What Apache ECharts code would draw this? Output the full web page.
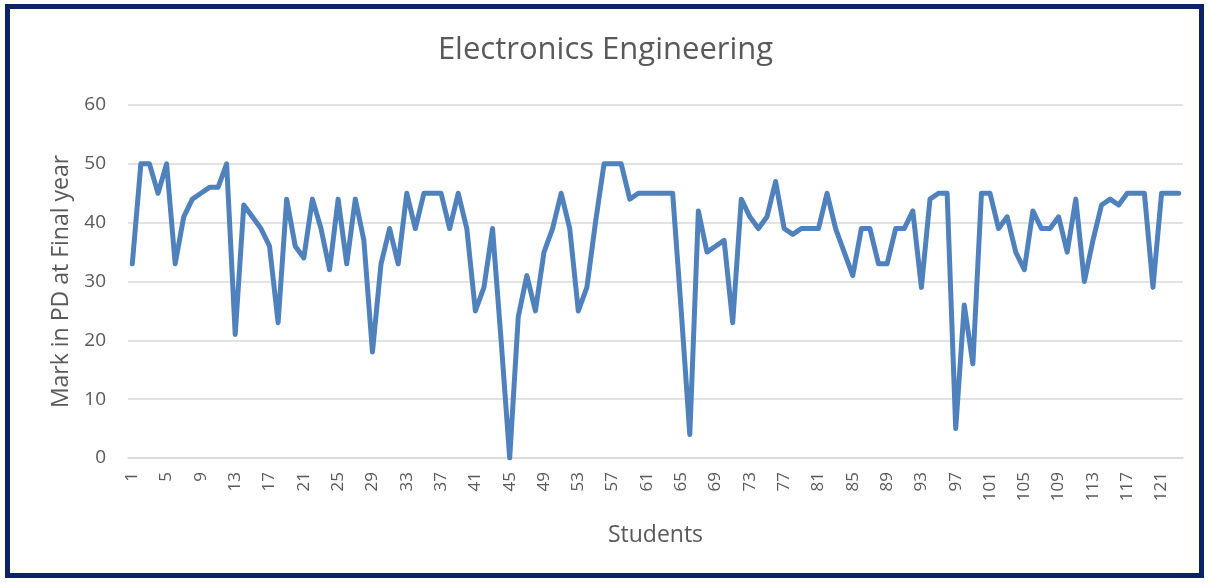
<!DOCTYPE html>
<html>
<head>
<meta charset="utf-8">
<script src="https://cdn.jsdelivr.net/npm/echarts@6/dist/echarts.min.js"></script>
<style>
  html, body { margin: 0; padding: 0; background: #fff; }
  #frame {
    position: absolute; left: 5px; top: 4px; width: 1189px; height: 564px;
    border: 5px solid #0b2265;
  }
  #chart { position: absolute; left: 0; top: 0; width: 1211px; height: 583px; }
</style>
</head>
<body>
<div id="chart"></div>
<div id="frame"></div>
<script>
// student numbers 1..123
const students = Array.from({ length: 123 }, (_, i) => String(i + 1));

// marks
const marks = [
  33, 50, 50, 45, 50, 33, 41, 44, 45, 46, 46, 50, 21, 43, 41, 39, 36, 23, 44, 36,
  34, 44, 39, 32, 44, 33, 44, 37, 18, 33, 39, 33, 45, 39, 45, 45, 45, 39, 45, 39,
  25, 29, 39, 20, 0, 24, 31, 25, 35, 39, 45, 39, 25, 29, 40, 50, 50, 50, 44, 45,
  45, 45, 45, 45, 25, 4, 42, 35, 36, 37, 23, 44, 41, 39, 41, 47, 39, 38, 39, 39,
  39, 45, 39, 35, 31, 39, 39, 33, 33, 39, 39, 42, 29, 44, 45, 45, 5, 26, 16, 45,
  45, 39, 41, 35, 32, 42, 39, 39, 41, 35, 44, 30, 37, 43, 44, 43, 45, 45, 45, 29,
  45, 45, 45
];

const chart = echarts.init(document.getElementById('chart'));

const grey = '#595959';
const font = 'Open Sans';

chart.setOption({
  animation: false,
  title: {
    text: 'Electronics Engineering',
    left: 'center',
    top: 30,
    textStyle: { fontFamily: font, fontSize: 31, fontWeight: 'normal', color: grey }
  },
  grid: { left: 128, right: 28, top: 105, bottom: 125 },
  xAxis: {
    type: 'category',
    data: students,
    boundaryGap: true,
    name: 'Students',
    nameLocation: 'middle',
    nameGap: 66,
    nameTextStyle: { fontFamily: font, fontSize: 23, color: grey },
    axisLine: { lineStyle: { color: '#d9d9d9', width: 1.5 } },
    axisTick: { show: false },
    axisLabel: {
      interval: 3,
      rotate: 90,
      margin: 14,
      fontFamily: font,
      fontSize: 17,
      color: grey
    }
  },
  yAxis: {
    type: 'value',
    min: 0,
    max: 60,
    interval: 10,
    name: 'Mark in PD at Final year',
    nameLocation: 'middle',
    nameGap: 54,
    nameTextStyle: { fontFamily: font, fontSize: 23, color: grey },
    axisLine: { show: false },
    axisTick: { show: false },
    axisLabel: { margin: 22, fontFamily: font, fontSize: 19, color: grey },
    splitLine: { lineStyle: { color: '#d9d9d9', width: 1.5 } }
  },
  series: [{
    type: 'line',
    data: marks,
    showSymbol: false,
    lineStyle: { color: '#4f81bd', width: 5, join: 'round', cap: 'round' },
    itemStyle: { color: '#4f81bd' }
  }]
});
</script>
</body>
</html>
